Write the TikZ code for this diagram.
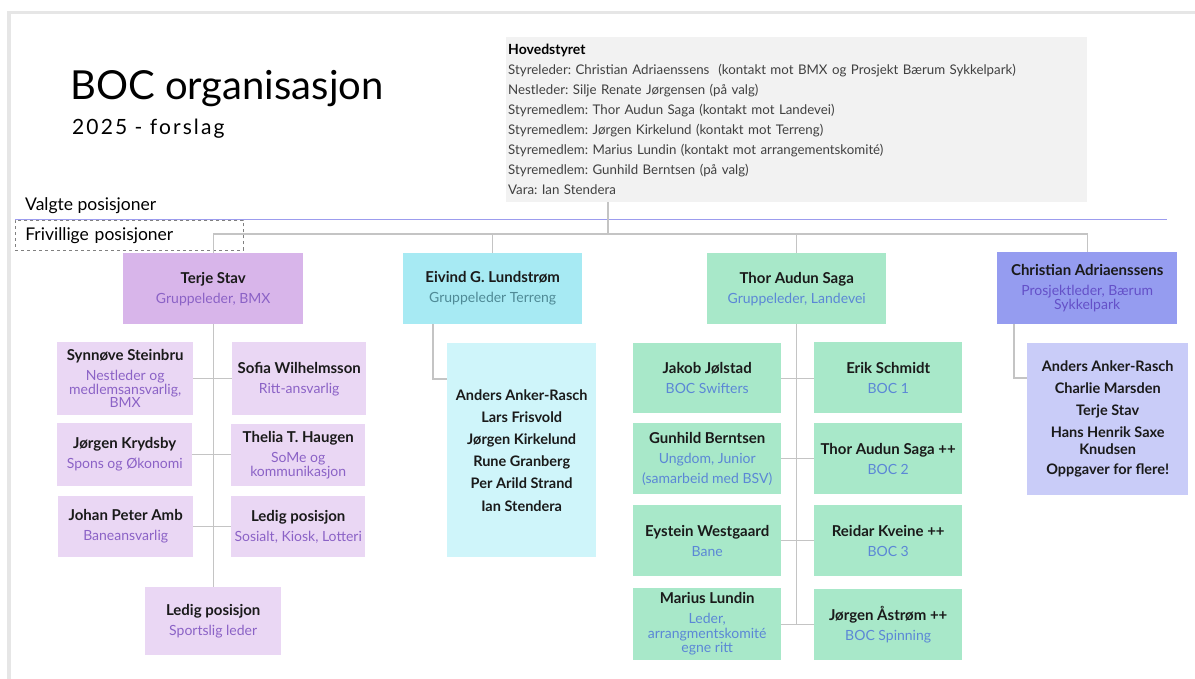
\documentclass[tikz,border=0pt]{standalone}
\usepackage{fontspec}
\setmainfont{Lato}
\usetikzlibrary{calc}
\definecolor{framegray}{HTML}{E6E6E6}
\definecolor{hsfill}{HTML}{F2F2F2}
\definecolor{hstext}{HTML}{404040}
\definecolor{bmxdark}{HTML}{D8B5EA}
\definecolor{bmxlight}{HTML}{EAD7F4}
\definecolor{bmxtext}{HTML}{8B62C6}
\definecolor{terdark}{HTML}{A7EAF3}
\definecolor{terlight}{HTML}{CFF5FA}
\definecolor{tertext}{HTML}{4F8A96}
\definecolor{landfill}{HTML}{A8E8C9}
\definecolor{landtext}{HTML}{5B87D6}
\definecolor{prdark}{HTML}{959CF0}
\definecolor{prlight}{HTML}{C9CCF8}
\definecolor{prtext}{HTML}{6450C8}
\definecolor{conngray}{HTML}{C4C4C4}
\definecolor{lavline}{HTML}{9C9CEE}
\definecolor{nametext}{HTML}{1A1A1A}
\newcommand\nm[1]{\textcolor{nametext}{\fontsize{15}{17}\selectfont\bfseries #1}}
\newcommand\sbt[2]{\textcolor{#1}{#2}}
\frenchspacing
\begin{document}
\begin{tikzpicture}[x=1pt,y=-1pt,
  box/.style={anchor=north west, inner sep=1pt, align=center,
    font=\fontsize{14}{17}\selectfont},
  hsbox/.style={anchor=north west, fill=hsfill, inner xsep=2pt, inner ysep=0pt,
    align=left, text width=577pt, minimum height=165pt,
    font=\fontsize{13.3}{20}\selectfont, text=hstext},
  conn/.style={draw=conngray, line width=1.1pt},
  lbl/.style={anchor=west, inner sep=0pt, font=\fontsize{17.5}{20}\selectfont}]
\useasboundingbox (0,0) rectangle (1195,679);
\fill[white] (0,0) rectangle (1195,679);
% frame of the slide
\fill[framegray] (7,11) rectangle (1195,14);
\fill[framegray] (7,11) rectangle (11,679);

% title
\node[anchor=base west, inner sep=0pt, font=\fontsize{40}{44}\selectfont] (title) at (70,100) {BOC organisasjon};
\node[anchor=base west, inner sep=0pt, font=\fontsize{21}{24}\selectfont\addfontfeatures{LetterSpace=10}] (sub) at (72,135) {2025 - forslag};

% Hovedstyret
\node[hsbox] (hs) at (506,37) {\textcolor{black}{\fontsize{14}{20}\selectfont\bfseries Hovedstyret}\\
Styreleder: Christian Adriaenssens\ \ (kontakt mot BMX og Prosjekt Bærum Sykkelpark)\\
Nestleder: Silje Renate Jørgensen (på valg)\\
Styremedlem: Thor Audun Saga (kontakt mot Landevei)\\
Styremedlem: Jørgen Kirkelund (kontakt mot Terreng)\\
Styremedlem: Marius Lundin (kontakt mot arrangementskomité)\\
Styremedlem: Gunhild Berntsen (på valg)\\
Vara: Ian Stendera};

% section labels
\node[lbl] (valgte) at (25,206) {Valgte posisjoner};
\draw[lavline, line width=1pt] (15,220) -- (1167,220);
\node[lbl, draw=gray, dashed, line width=0.6pt, anchor=north west, minimum width=228pt, minimum height=30pt, inner xsep=10pt, text width=208pt, align=left] (friv) at (15,220) {Frivillige posisjoner};

% ---- BMX ----
\node[box, fill=bmxdark, minimum width=180pt, minimum height=71pt] (terje) at (123,253)
  {\nm{Terje Stav}\\[3pt]\sbt{bmxtext}{Gruppeleder, BMX}};
\node[box, fill=bmxlight, minimum width=136pt, minimum height=73pt] (synnove) at (57,342)
  {\nm{Synnøve Steinbru}\\[3pt]\sbt{bmxtext}{Nestleder og}\\[-3.5pt]\sbt{bmxtext}{medlemsansvarlig,}\\[-3.5pt]\sbt{bmxtext}{BMX}};
\node[box, fill=bmxlight, minimum width=134pt, minimum height=73pt] (sofia) at (232,342)
  {\nm{Sofia Wilhelmsson}\\[3pt]\sbt{bmxtext}{Ritt-ansvarlig}};
\node[box, fill=bmxlight, minimum width=135pt, minimum height=63pt] (krydsby) at (57,423)
  {\nm{Jørgen Krydsby}\\[3pt]\sbt{bmxtext}{Spons og Økonomi}};
\node[box, fill=bmxlight, minimum width=134pt, minimum height=62pt] (thelia) at (231,424)
  {\nm{Thelia T. Haugen}\\[3pt]\sbt{bmxtext}{SoMe og}\\[-3pt]\sbt{bmxtext}{kommunikasjon}};
\node[box, fill=bmxlight, minimum width=135pt, minimum height=61pt] (johan) at (58,496)
  {\nm{Johan Peter Amb}\\[3pt]\sbt{bmxtext}{Baneansvarlig}};
\node[box, fill=bmxlight, minimum width=134pt, minimum height=61pt] (ledig1) at (231,496)
  {\nm{Ledig posisjon}\\[3pt]\sbt{bmxtext}{Sosialt, Kiosk, Lotteri}};
\node[box, fill=bmxlight, minimum width=136pt, minimum height=68pt] (ledig2) at (145,587)
  {\nm{Ledig posisjon}\\[3pt]\sbt{bmxtext}{Sportslig leder}};

% ---- Terreng ----
\node[box, fill=terdark, minimum width=179pt, minimum height=71pt] (eivind) at (403,253)
  {\nm{Eivind G. Lundstrøm}\\[3pt]\sbt{tertext}{Gruppeleder Terreng}};
\node[box, fill=terlight, minimum width=149pt, minimum height=214pt, font=\fontsize{14.5}{22.2}\selectfont\bfseries, text=nametext] (termem) at (447,343)
  {Anders Anker-Rasch\\Lars Frisvold\\Jørgen Kirkelund\\Rune Granberg\\Per Arild Strand\\Ian Stendera};

% ---- Landevei ----
\node[box, fill=landfill, minimum width=179pt, minimum height=71pt] (thor) at (707,253)
  {\nm{Thor Audun Saga}\\[3pt]\sbt{landtext}{Gruppeleder, Landevei}};
\node[box, fill=landfill, minimum width=148pt, minimum height=70pt] (jakob) at (633,343)
  {\nm{Jakob Jølstad}\\[3pt]\sbt{landtext}{BOC Swifters}};
\node[box, fill=landfill, minimum width=148pt, minimum height=71pt] (erik) at (814,342)
  {\nm{Erik Schmidt}\\[3pt]\sbt{landtext}{BOC 1}};
\node[box, fill=landfill, minimum width=148pt, minimum height=71pt] (gunhild) at (633,423)
  {\nm{Gunhild Berntsen}\\[3pt]\sbt{landtext}{Ungdom, Junior}\\[3pt]\sbt{landtext}{(samarbeid med BSV)}};
\node[box, fill=landfill, minimum width=148pt, minimum height=71pt] (thor2) at (814,423)
  {\nm{Thor Audun Saga ++}\\[3pt]\sbt{landtext}{BOC 2}};
\node[box, fill=landfill, minimum width=148pt, minimum height=71pt] (eystein) at (633,505)
  {\nm{Eystein Westgaard}\\[3pt]\sbt{landtext}{Bane}};
\node[box, fill=landfill, minimum width=148pt, minimum height=71pt] (reidar) at (814,505)
  {\nm{Reidar Kveine ++}\\[3pt]\sbt{landtext}{BOC 3}};
\node[box, fill=landfill, minimum width=148pt, minimum height=72pt] (marius) at (633,588)
  {\nm{Marius Lundin}\\[3pt]\sbt{landtext}{Leder,}\\[-2.5pt]\sbt{landtext}{arrangmentskomité}\\[-2.5pt]\sbt{landtext}{egne ritt}};
\node[box, fill=landfill, minimum width=148pt, minimum height=71pt] (astrom) at (814,589)
  {\nm{Jørgen Åstrøm ++}\\[3pt]\sbt{landtext}{BOC Spinning}};

% ---- Prosjekt ----
\node[box, fill=prdark, minimum width=180pt, minimum height=72pt] (christian) at (997,252)
  {\nm{Christian Adriaenssens}\\[3pt]\sbt{prtext}{Prosjektleder, Bærum}\\[-2.5pt]\sbt{prtext}{Sykkelpark}};
\node[box, fill=prlight, minimum width=161pt, minimum height=152pt, font=\fontsize{14.5}{22}\selectfont\bfseries, text=nametext] (prmem) at (1027,343)
  {Anders Anker-Rasch\\Charlie Marsden\\Terje Stav\\Hans Henrik Saxe\\[-5pt]Knudsen\\[-2pt]Oppgaver for flere!};

% ---- connectors ----
\coordinate (bus) at (608,234);
\coordinate (ejoin) at (433,379);
\coordinate (cjoin) at (1014,378);
\draw[conn] (hs.south -| bus) -- (bus);
\draw[conn] (terje.north) -- (terje.north |- bus) -- (christian.north |- bus) -- (christian.north);
\draw[conn] (eivind.north |- bus) -- (eivind.north);
\draw[conn] (thor.north |- bus) -- (thor.north);

\draw[conn] (terje.south) -- (ledig2.north);
\draw[conn] (synnove.east) -- (sofia.west |- synnove.east);
\draw[conn] (krydsby.east) -- (thelia.west |- krydsby.east);
\draw[conn] (johan.east) -- (ledig1.west |- johan.east);

\draw[conn] (eivind.south -| ejoin) -- (ejoin) -- (termem.west |- ejoin);
\draw[conn] (christian.south -| cjoin) -- (cjoin) -- (prmem.west |- cjoin);

\draw[conn] (thor.south) -- (thor.south |- marius.east);
\draw[conn] (jakob.east) -- (erik.west |- jakob.east);
\draw[conn] (gunhild.east) -- (thor2.west |- gunhild.east);
\draw[conn] (eystein.east) -- (reidar.west |- eystein.east);
\draw[conn] (marius.east) -- (astrom.west |- marius.east);
\end{tikzpicture}
\end{document}
